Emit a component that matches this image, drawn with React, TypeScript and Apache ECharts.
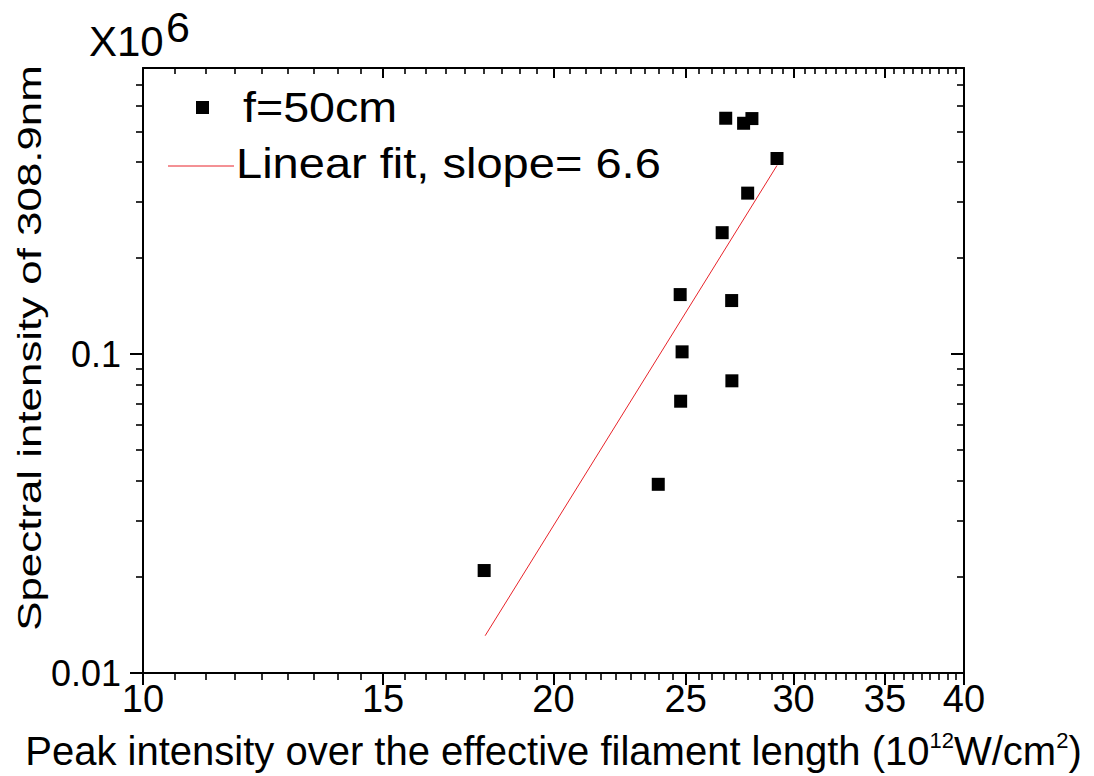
import React, { useEffect, useRef } from "react";
import * as echarts from "echarts";

// ---- data ----
const xRange = [10, 40];
const yRange = [0.01, 0.79];
const xMajorTicks = [10, 15, 20, 25, 30, 35, 40];
const yMajorTicks = [0.01, 0.1];
const yMinorTicks = [0.02, 0.03, 0.04, 0.05, 0.06, 0.07, 0.08, 0.09, 0.2, 0.3, 0.4, 0.5, 0.6, 0.7];
const xMinorPerMajor = 8;

const peakIntensity = [17.79, 23.87, 24.79, 24.85, 24.77, 27.02, 27.03, 26.59, 27.76, 26.75, 27.57, 27.96, 29.17];
const spectralIntensity = [0.02096, 0.03907, 0.0712, 0.1017, 0.1538, 0.1473, 0.0825, 0.2405, 0.32, 0.5496, 0.53, 0.5483, 0.411];
const fitX = [17.82, 29.17];
const fitY = [0.01309, 0.3908];

const scatterName = "f=50cm";
const fitName = "Linear fit, slope= 6.6";
const xTitle = "Peak intensity over the effective filament length (10{sup|12}W/cm{sup|2})";
const yTitle = "Spectral intensity of 308.9nm";

const FONT = "'Liberation Sans', Arial, Helvetica, sans-serif";

// minor ticks: evenly spaced in value between majors (Origin style)
const xMinorTicks: number[] = [];
for (let i = 0; i < xMajorTicks.length - 1; i++) {
  const a = xMajorTicks[i];
  const b = xMajorTicks[i + 1];
  for (let k = 1; k <= xMinorPerMajor; k++) {
    xMinorTicks.push(a + ((b - a) * k) / (xMinorPerMajor + 1));
  }
}

const fmt = (v: number) => String(+Number(v).toPrecision(4));

export default function App() {
  const ref = useRef<HTMLDivElement>(null);

  useEffect(() => {
    if (!ref.current) return;
    const chart = echarts.init(ref.current, undefined, { renderer: "svg" });

    const black = "#000";
    const red = "#e8232a";
    const baseX = {
      type: "log" as const,
      logBase: 10,
      min: xRange[0],
      max: xRange[1],
      splitLine: { show: false },
      minorTick: { show: false },
      minorSplitLine: { show: false },
    };
    const baseY = {
      type: "log" as const,
      logBase: 10,
      min: yRange[0],
      max: yRange[1],
      splitLine: { show: false },
      minorTick: { show: false },
      minorSplitLine: { show: false },
    };
    const line = { show: true, onZero: false, lineStyle: { color: black, width: 2 } };
    const noLine = { show: false };

    const option: any = {
      animation: false,
      backgroundColor: "#fff",
      grid: { left: 143, right: 130, top: 68, bottom: 103, containLabel: false, outerBoundsMode: "none" },
      xAxis: [
        {
          ...baseX,
          position: "bottom",
          axisLine: line,
          axisTick: { show: true, inside: false, length: 12, customValues: xMajorTicks, lineStyle: { color: black, width: 2 } },
          axisLabel: {
            show: true,
            customValues: xMajorTicks,
            formatter: (v: number) => fmt(v),
            fontSize: 38,
            color: black,
            fontFamily: FONT,
            margin: 7,
          },
          name: xTitle,
          nameLocation: "middle",
          nameGap: 56,
          nameTextStyle: {
            fontSize: 40,
            color: black,
            fontFamily: FONT,
            lineHeight: 44,
            rich: { sup: { fontSize: 22, verticalAlign: "top", fontFamily: FONT, color: black, lineHeight: 44 } },
          },
        },
        {
          ...baseX,
          position: "bottom",
          axisLine: noLine,
          axisTick: { show: true, inside: false, length: 7, customValues: xMinorTicks, lineStyle: { color: black, width: 1.6 } },
          axisLabel: { show: false },
        },
        {
          ...baseX,
          position: "top",
          axisLine: line,
          axisTick: { show: true, inside: true, length: 10, customValues: xMajorTicks, lineStyle: { color: black, width: 2 } },
          axisLabel: { show: false },
        },
        {
          ...baseX,
          position: "top",
          axisLine: noLine,
          axisTick: { show: true, inside: true, length: 6, customValues: xMinorTicks, lineStyle: { color: black, width: 1.6 } },
          axisLabel: { show: false },
        },
      ],
      yAxis: [
        {
          ...baseY,
          position: "left",
          axisLine: line,
          axisTick: { show: true, inside: false, length: 13, customValues: yMajorTicks, lineStyle: { color: black, width: 2 } },
          axisLabel: {
            show: true,
            customValues: yMajorTicks,
            formatter: (v: number) => fmt(v),
            fontSize: 36,
            color: black,
            fontFamily: FONT,
            margin: 22,
          },
        },
        {
          ...baseY,
          position: "left",
          axisLine: noLine,
          axisTick: { show: true, inside: false, length: 7, customValues: yMinorTicks, lineStyle: { color: black, width: 1.6 } },
          axisLabel: { show: false },
        },
        {
          ...baseY,
          position: "right",
          axisLine: line,
          axisTick: { show: true, inside: true, length: 13, customValues: yMajorTicks, lineStyle: { color: black, width: 2 } },
          axisLabel: { show: false },
        },
        {
          ...baseY,
          position: "right",
          axisLine: noLine,
          axisTick: { show: true, inside: true, length: 7, customValues: yMinorTicks, lineStyle: { color: black, width: 1.6 } },
          axisLabel: { show: false },
        },
      ],
      series: [
        {
          name: scatterName,
          type: "scatter",
          xAxisIndex: 0,
          yAxisIndex: 0,
          symbol: "rect",
          symbolSize: 13,
          itemStyle: { color: black, opacity: 1 },
          data: peakIntensity.map((x, i) => [x, spectralIntensity[i]]),
          z: 3,
        },
        {
          name: fitName,
          type: "line",
          xAxisIndex: 0,
          yAxisIndex: 0,
          showSymbol: false,
          symbol: "none",
          lineStyle: { color: red, width: 1 },
          data: fitX.map((x, i) => [x, fitY[i]]),
          z: 2,
        },
      ],
      graphic: [
        // x10^6 multiplier
        {
          type: "text",
          x: 89,
          y: 41,
          style: { text: "X10", font: `42px ${FONT}`, fill: black, textAlign: "left", textVerticalAlign: "middle" },
        },
        {
          type: "text",
          x: 166,
          y: 27,
          style: { text: "6", font: `43px ${FONT}`, fill: black, textAlign: "left", textVerticalAlign: "middle" },
        },
        // y axis title
        {
          type: "text",
          x: 29,
          y: 348,
          rotation: Math.PI / 2,
          scaleX: 1.29,
          style: { text: yTitle, font: `34px ${FONT}`, fill: black, textAlign: "center", textVerticalAlign: "middle" },
        },
        // legend
        { type: "rect", shape: { x: 196, y: 101, width: 13, height: 13 }, style: { fill: black } },
        {
          type: "text",
          x: 243,
          y: 107,
          scaleX: 1.11,
          style: { text: scatterName, font: `42px ${FONT}`, fill: black, textAlign: "left", textVerticalAlign: "middle" },
        },
        { type: "line", shape: { x1: 168, y1: 166, x2: 234, y2: 166 }, style: { stroke: red, lineWidth: 1 } },
        {
          type: "text",
          x: 236,
          y: 163,
          scaleX: 1.12,
          style: { text: fitName, font: `42px ${FONT}`, fill: black, textAlign: "left", textVerticalAlign: "middle" },
        },
      ],
    };

    chart.setOption(option);
    return () => chart.dispose();
  }, []);

  return (
    <div
      ref={ref}
      style={{ position: "absolute", left: 0, top: 0, width: 1094, height: 776, background: "#fff" }}
    />
  );
}
